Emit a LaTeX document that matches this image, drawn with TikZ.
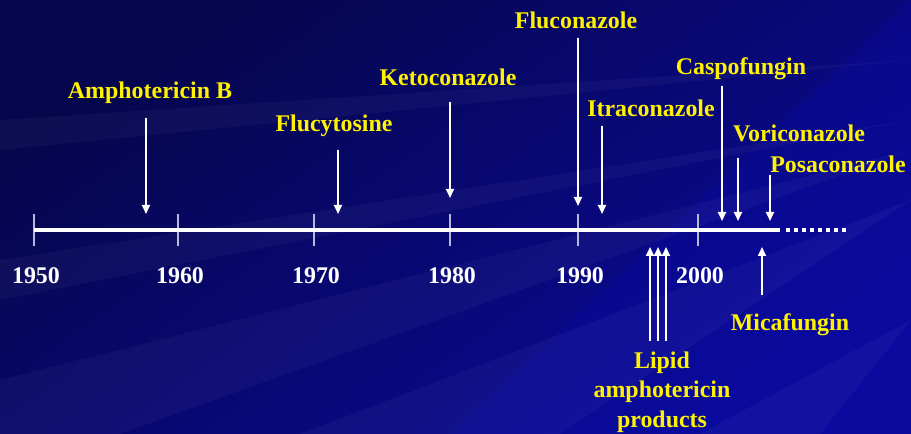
\documentclass[tikz,border=0pt]{standalone}
\usepackage{fontspec}
\setmainfont{Liberation Serif}
\usetikzlibrary{arrows.meta}
\definecolor{bgdark}{HTML}{06064C}
\definecolor{bgmid}{HTML}{0A0A98}
\definecolor{bglight}{HTML}{0C0CB0}
\definecolor{tickc}{HTML}{B8B8DC}
\begin{document}
\begin{tikzpicture}[x=1bp,y=-1bp,
  drug/.style={text=yellow,font=\fontsize{24}{27}\selectfont\bfseries,inner sep=0pt},
  yr/.style={text=white,font=\fontsize{24}{27}\selectfont\bfseries,inner sep=0pt},
  tick/.style={draw=tickc,line width=1.5bp},
  arr/.style={draw=white,line width=2bp,-{Triangle[length=9bp,width=8bp]}},
  ray/.style={fill=white,fill opacity=0.035,draw=none}]
% background
\shade[top color=bgdark,bottom color=bgmid,shading angle=35] (0,0) rectangle (911,434);
\fill[bglight,opacity=0.25] (911,0) -- (911,434) -- (450,434) -- cycle;
\fill[ray] (911,120) -- (0,260) -- (0,300) -- cycle;
\fill[ray] (911,150) -- (0,380) -- (0,434) -- (120,434) -- cycle;
\fill[ray] (911,200) -- (300,434) -- (560,434) -- cycle;
\fill[ray] (911,60) -- (0,120) -- (0,150) -- cycle;
\fill[ray] (911,320) -- (700,434) -- (820,434) -- cycle;
\useasboundingbox (0,0) rectangle (911,434);
% ticks
\foreach \n/\x in {t50/34,t60/178,t70/314,t80/450,t90/578,t00/698}{
  \coordinate (\n a) at (\x,214); \coordinate (\n b) at (\x,246);
  \draw[tick] (\n a) -- (\n b);}
% main line
\coordinate (ls) at (34,230); \coordinate (le) at (780,230);
\coordinate (ds) at (786,230); \coordinate (de) at (848,230);
\draw[white,line width=4bp] (ls) -- (le);
\draw[white,line width=4bp,dash pattern=on 4bp off 4bp] (ds) -- (de);
% years
\node[yr] (y50) at (36,276) {1950};
\node[yr] (y60) at (180,276) {1960};
\node[yr] (y70) at (316,276) {1970};
\node[yr] (y80) at (452,276) {1980};
\node[yr] (y90) at (580,276) {1990};
\node[yr] (y00) at (700,276) {2000};
% drug labels
\node[drug] (amb) at (150,93) {Amphotericin B};
\node[drug] (flu) at (334,126) {Flucytosine};
\node[drug] (ket) at (448,77) {Ketoconazole};
\node[drug] (fcz) at (576,20) {Fluconazole};
\node[drug] (itr) at (651,108) {Itraconazole};
\node[drug] (cas) at (741,69) {Caspofungin};
\node[drug] (vor) at (799,133) {Voriconazole};
\node[drug] (pos) at (838,164) {Posaconazole};
\node[drug] (mic) at (790,325) {Micafungin};
\node[drug,align=center,font=\fontsize{24}{29.5}\selectfont\bfseries] (lip) at (662,392) {Lipid\\amphotericin\\products};
% arrows
\foreach \n/\x/\a/\b in {aamb/146/118/214,aflu/338/150/214,aket/450/102/198,afcz/578/38/206,aitr/602/126/214,acas/722/86/221,avor/738/158/221,apos/770/175/221}{
  \coordinate (\n s) at (\x,\a); \coordinate (\n e) at (\x,\b);
  \draw[arr] (\n s) -- (\n e);}
\foreach \n/\x/\a/\b in {amic/762/295/247,al1/650/341/247,al2/658/341/247,al3/666/341/247}{
  \coordinate (\n s) at (\x,\a); \coordinate (\n e) at (\x,\b);
  \draw[arr] (\n s) -- (\n e);}
\end{tikzpicture}
\end{document}
